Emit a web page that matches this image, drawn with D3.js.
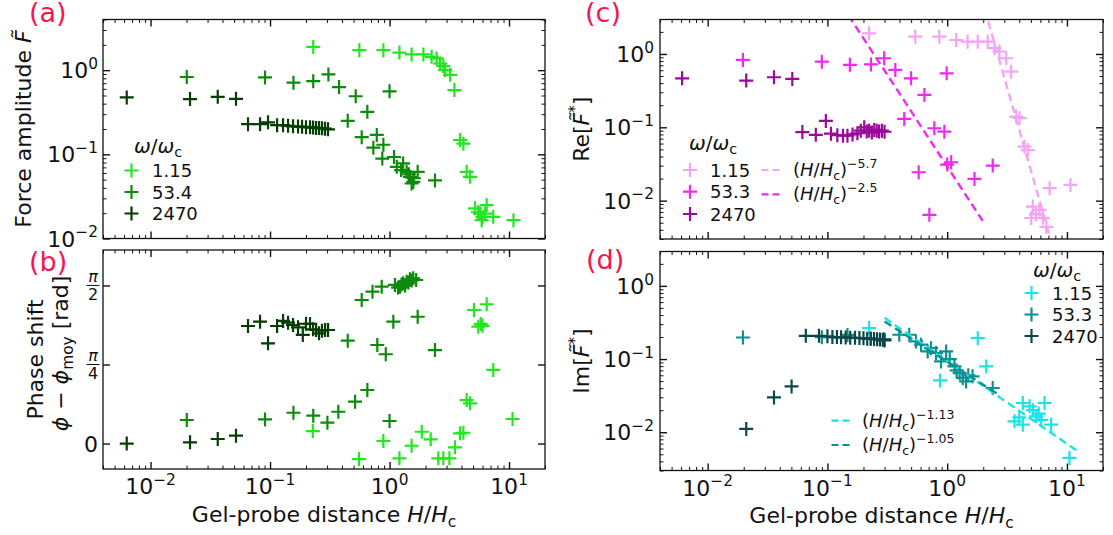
<!DOCTYPE html>
<html><head><meta charset="utf-8">
<script src="https://cdn.jsdelivr.net/npm/d3@7"></script>
<style>body{margin:0;background:#fff}svg{display:block}text{font-family:"DejaVu Sans",sans-serif;fill:#111}</style>
</head><body><svg id="chart" width="1113" height="535"></svg>
<script>
// ---------------- data (H/Hc, value) ----------------
const ampLight = [[0.230,1.89],[0.559,1.73],[0.888,1.73],[1.21,1.62],[1.53,1.54],[1.92,1.54],[2.25,1.44],[2.48,1.38],[2.65,1.20],[2.82,1.12],[2.92,1.0],[3.21,0.88],[3.49,0.58],[3.89,0.148],[4.15,0.134],[4.42,0.062],[4.71,0.054],[5.19,0.0228],[5.5,0.0205],[5.71,0.0198],[5.90,0.0165],[6.0,0.018],[6.29,0.0198],[6.50,0.0249],[7.38,0.0181],[10.9,0.0165]];
const ampMid = [[0.0201,0.83],[0.0908,0.82],[0.157,0.71],[0.230,0.74],[0.308,0.89],[0.378,0.63],[0.447,0.25],[0.521,0.49],[0.585,0.16],[0.652,0.32],[0.732,0.12],[0.782,0.17],[0.870,0.089],[0.888,0.13],[1.0,0.56],[1.09,0.093],[1.15,0.071],[1.25,0.065],[1.30,0.078],[1.39,0.062],[1.45,0.058],[1.48,0.054],[1.53,0.045],[1.58,0.047],[1.6,0.052],[1.72,0.062],[2.40,0.049]];
const ampDark = [[0.00632,0.474],[0.0214,0.453],[0.0365,0.482],[0.0519,0.456],[0.0654,0.228],[0.0825,0.228],[0.0962,0.24],[0.1145,0.222],[0.1285,0.222],[0.1415,0.218],[0.1557,0.215],[0.1715,0.214],[0.1853,0.212],[0.200,0.210],[0.2162,0.210],[0.2291,0.208],[0.2427,0.206],[0.2571,0.205],[0.2723,0.204],[0.2885,0.202],[0.3057,0.198]];

const phaseLight = [[0.228,0.124],[0.556,-0.154],[0.888,0.025],[1.21,-0.147],[1.53,-0.022],[1.86,0.117],[2.21,0.042],[2.56,-0.147],[2.82,-0.147],[3.17,-0.147],[3.53,-0.038],[3.89,0.101],[4.15,0.107],[4.42,0.432],[4.71,0.40],[5.09,1.327],[5.53,1.161],[5.79,1.188],[6.0,1.17],[6.50,1.384],[7.38,0.731],[10.7,0.244]];
const phaseMid = [[0.0201,0.234],[0.0908,0.240],[0.157,0.306],[0.230,0.277],[0.302,0.207],[0.373,0.316],[0.447,1.022],[0.515,0.416],[0.585,1.426],[0.652,0.532],[0.72,1.509],[0.79,0.979],[0.86,1.559],[0.93,0.887],[1.0,0.224],[1.076,1.211],[1.11,1.576],[1.18,1.55],[1.22,1.559],[1.26,1.58],[1.30,1.592],[1.35,1.57],[1.39,1.608],[1.44,1.60],[1.48,1.632],[1.53,1.62],[1.58,1.642],[1.67,1.625],[1.72,1.26],[2.40,0.929]];
const phaseDark = [[0.00632,0.0],[0.0214,0.012],[0.0365,0.045],[0.0519,0.078],[0.0654,1.168],[0.0825,1.211],[0.0962,0.996],[0.1145,1.168],[0.1285,1.218],[0.1415,1.201],[0.1557,1.178],[0.1715,1.155],[0.188,1.079],[0.200,1.19],[0.216,1.188],[0.229,1.135],[0.243,1.128],[0.257,1.095],[0.272,1.121],[0.289,1.128],[0.306,1.128]];

const reLight = [[0.223,1.91],[0.542,1.72],[0.86,1.72],[1.19,1.55],[1.48,1.47],[1.80,1.47],[2.18,1.47],[2.48,1.20],[2.73,1.08],[3.11,0.874],[3.42,0.574],[3.77,0.14],[4.02,0.133],[4.42,0.0545],[4.71,0.049],[5.03,0.0058],[5.19,0.0083],[5.5,0.0065],[5.9,0.0075],[6.29,0.0058],[6.73,0.0044],[7.17,0.0148],[10.7,0.0164]];
const reMid = [[0.0197,0.83],[0.0898,0.785],[0.154,0.71],[0.231,0.72],[0.298,0.874],[0.369,0.605],[0.438,0.130],[0.499,0.466],[0.578,0.0244],[0.645,0.276],[0.71,0.0064],[0.781,0.097],[0.947,0.0873],[0.99,0.545],[1.0,0.031],[1.08,0.0334],[1.69,0.0198],[2.40,0.0301]];
const reDark = [[0.00612,0.466],[0.021,0.433],[0.0358,0.481],[0.0509,0.456],[0.0618,0.086],[0.080,0.079],[0.097,0.122],[0.107,0.082],[0.121,0.078],[0.135,0.077],[0.147,0.077],[0.162,0.080],[0.178,0.083],[0.19,0.09],[0.203,0.10],[0.213,0.088],[0.223,0.09],[0.235,0.085],[0.246,0.092],[0.258,0.09],[0.27,0.088],[0.285,0.09],[0.30,0.087]];

const imLight = [[0.223,0.265],[0.872,0.051],[1.80,0.193],[2.12,0.0793],[3.65,0.0141],[4.0,0.016],[4.28,0.0251],[4.28,0.0127],[4.88,0.0226],[5.2,0.020],[5.53,0.0165],[5.8,0.018],[6.1,0.0148],[6.5,0.0251],[7.38,0.0127],[10.5,0.00446]];
const imMid = [[0.0197,0.197],[0.0898,0.199],[0.147,0.214],[0.23,0.19],[0.298,0.187],[0.398,0.215],[0.482,0.215],[0.549,0.174],[0.605,0.157],[0.687,0.127],[0.733,0.141],[0.807,0.121],[0.889,0.0927],[0.98,0.127],[1.05,0.10],[1.15,0.0793],[1.2,0.070],[1.27,0.0644],[1.35,0.0552],[1.44,0.0495],[1.5,0.060],[1.63,0.058],[2.40,0.0402]];
const imDark = [[0.021,0.0111],[0.0358,0.0299],[0.0502,0.0423],[0.066,0.208],[0.085,0.208],[0.10,0.205],[0.11,0.20],[0.12,0.20],[0.13,0.198],[0.142,0.197],[0.155,0.196],[0.17,0.195],[0.185,0.194],[0.20,0.193],[0.215,0.19],[0.23,0.19],[0.245,0.188],[0.26,0.186],[0.275,0.185],[0.29,0.183],[0.30,0.18]];

// power-law fits: exponent, prefactor, H range
const fitRe = [{exp:-5.7, A:249, from:2.2, to:7.2, lab:"−5.7"},{exp:-2.5, A:0.0292, from:0.15, to:1.98, lab:"−2.5"}];
const fitIm = [{exp:-1.13, A:0.0938, from:0.3, to:12.4, lab:"−1.13"},{exp:-1.05, A:0.092, from:0.3, to:2.6, lab:"−1.05"}];

const legA = ["1.15","53.4","2470"];
const legCD = ["1.15","53.3","2470"];
const xTickExps = [-2,-1,0,1];
const logYExpsA = [-2,-1,0];
const logYExpsCD = [-2,-1,0];
const phaseTicks = [0, Math.PI/4, Math.PI/2];

// ---------------- layout ----------------
const svg = d3.select("#chart");
const boxes = {
  a:{l:103,r:545,t:19.5,b:238.5},
  b:{l:103,r:545,t:250,b:469},
  c:{l:660,r:1103,t:19.5,b:239},
  d:{l:660,r:1103,t:251.5,b:470.5}
};
const xDomain = [0.004, 20];
const colA = ["#22e622","#0b8a0b","#053d05"];
const colC = ["#f5a3f5","#f028f0","#990a99"];
const colD = ["#1ee3e3","#0c9191","#0c4747"];
const FS = 22;

function logMaj(dom){const o=[];for(let e=-4;e<=2;e++){const v=Math.pow(10,e);if(v>=dom[0]&&v<=dom[1])o.push(v);}return o;}
function logMin(dom){const o=[];for(let e=-4;e<=2;e++)for(let m=2;m<=9;m++){const v=m*Math.pow(10,e);if(v>=dom[0]&&v<=dom[1])o.push(v);}return o;}

function drawTicks(g,bx,x,y,xMaj,xMin,yMaj,yMin){
  const specs=[[d3.axisBottom,x,`translate(0,${bx.b})`,true],[d3.axisTop,x,`translate(0,${bx.t})`,true],
               [d3.axisLeft,y,`translate(${bx.l},0)`,false],[d3.axisRight,y,`translate(${bx.r},0)`,false]];
  specs.forEach(([fn,sc,tr,isX])=>{
    const maj=isX?xMaj:yMaj, mn=isX?xMin:yMin;
    [[mn,3.5,1.0],[maj,7,1.4]].forEach(([vals,len,w])=>{
      if(!vals.length) return;
      const ax=g.append("g").attr("transform",tr).call(fn(sc).tickValues(vals).tickSize(-len).tickFormat(""));
      ax.select(".domain").remove();
      ax.selectAll("text").remove();
      ax.selectAll("line").attr("stroke","#111").attr("stroke-width",w);
    });
  });
  g.append("rect").attr("x",bx.l).attr("y",bx.t).attr("width",bx.r-bx.l).attr("height",bx.b-bx.t)
    .attr("fill","none").attr("stroke","#111").attr("stroke-width",1.3);
}

function rich(g,parts,attrs){
  const t=g.append("text");
  Object.entries(attrs).forEach(([k,v])=>t.attr(k,v));
  parts.forEach(p=>{const s=t.append("tspan").text(p.t);
    if(p.i) s.attr("font-style","italic");
    if(p.dy!==undefined) s.attr("dy",p.dy);
    if(p.fs) s.attr("font-size",p.fs);});
  return t;
}
function powParts(e,fs){return [{t:"10"},{t:(e<0?"−"+(-e):String(e)),dy:-fs*0.42,fs:fs*0.7}];}

function plus(g,data,x,y,color,clip){
  g.append("g").attr("clip-path",clip).selectAll("path").data(data).join("path")
   .attr("d","M-7,0H7M0,-7V7").attr("transform",d=>`translate(${x(d[0])},${y(d[1])})`)
   .attr("stroke",color).attr("stroke-width",2.2).attr("fill","none");
}
function clipFor(id,bx){
  svg.append("clipPath").attr("id",id).append("rect").attr("x",bx.l).attr("y",bx.t).attr("width",bx.r-bx.l).attr("height",bx.b-bx.t);
  return `url(#${id})`;
}
function panelLetter(s,x,yb){svg.append("text").attr("x",x).attr("y",yb).attr("font-size",27).style("fill","#f5164f").text(s);}

function xTickLabels(g,bx,x,yb){
  xTickExps.forEach(e=>rich(g,powParts(e,FS),{x:x(Math.pow(10,e)),y:yb,"text-anchor":"middle","font-size":FS}));
}
function yLogTickLabels(g,bx,y,exps,xr){
  exps.forEach(e=>rich(g,powParts(e,FS),{x:xr,y:y(Math.pow(10,e))+8,"text-anchor":"end","font-size":FS}));
}
function xLabel(g,cx,yb){
  rich(g,[{t:"Gel-probe distance "},{t:"H",i:1},{t:"/"},{t:"H",i:1},{t:"c",dy:5,fs:FS*0.7}],{x:cx,y:yb,"text-anchor":"middle","font-size":FS});
}
function omegaTitle(g,cx,yb,fs){
  rich(g,[{t:"ω",i:1},{t:"/"},{t:"ω",i:1},{t:"c",dy:4,fs:fs*0.72}],{x:cx,y:yb,"text-anchor":"middle","font-size":fs});
}
function legendSeries(g,x0,ys,cols,labs,tx){
  ys.forEach((yy,i)=>{
    g.append("path").attr("d","M-7,0H7M0,-7V7").attr("transform",`translate(${x0},${yy})`)
     .attr("stroke",cols[i]).attr("stroke-width",2.2).attr("fill","none");
    g.append("text").attr("x",tx).attr("y",yy+6.5).attr("font-size",18).text(labs[i]);
  });
}
function legendFits(g,x0,x1,ys,cols,fits,tx){
  ys.forEach((yy,i)=>{
    g.append("line").attr("x1",x0).attr("x2",x1).attr("y1",yy).attr("y2",yy)
     .attr("stroke",cols[i]).attr("stroke-width",2.2).attr("stroke-dasharray","7,4");
    rich(g,[{t:"("},{t:"H",i:1},{t:"/"},{t:"H",i:1},{t:"c",dy:4,fs:12.5},{t:")",dy:-4},{t:fits[i].lab,dy:-8,fs:12.5}],
      {x:tx,y:yy+6,"font-size":18});
  });
}
function fitLines(g,x,y,fits,cols,clip){
  fits.forEach((f,i)=>{
    const pts=[[f.from,f.A*Math.pow(f.from,f.exp)],[f.to,f.A*Math.pow(f.to,f.exp)]];
    g.append("path").attr("clip-path",clip).datum(pts)
     .attr("d",d3.line().x(d=>x(d[0])).y(d=>y(d[1])))
     .attr("fill","none").attr("stroke",cols[i]).attr("stroke-width",2.4).attr("stroke-dasharray","8,4.5");
  });
}

// ---------------- panel (a) ----------------
{
  const bx=boxes.a, g=svg.append("g");
  const x=d3.scaleLog().domain(xDomain).range([bx.l,bx.r]);
  const yd=[0.01,4];
  const y=d3.scaleLog().domain(yd).range([bx.b,bx.t]);
  const clip=clipFor("ca",bx);
  plus(g,ampLight,x,y,colA[0],clip);
  plus(g,ampMid,x,y,colA[1],clip);
  plus(g,ampDark,x,y,colA[2],clip);
  drawTicks(g,bx,x,y,logMaj(xDomain),logMin(xDomain),logMaj(yd),logMin(yd));
  yLogTickLabels(g,bx,y,logYExpsA,98);
  rich(g,[{t:"Force amplitude "},{t:"F\u0303",i:1}],{transform:`translate(31,${(bx.t+bx.b)/2}) rotate(-90)`,"text-anchor":"middle","font-size":FS});
  omegaTitle(g,158,153,20);
  legendSeries(g,131.5,[170.5,192,213.5],colA,legA,152);
  panelLetter("(a)",29,22);
}
// ---------------- panel (b) ----------------
{
  const bx=boxes.b, g=svg.append("g");
  const x=d3.scaleLog().domain(xDomain).range([bx.l,bx.r]);
  const y=d3.scaleLinear().domain([-0.253,1.923]).range([bx.b,bx.t]);
  const clip=clipFor("cb",bx);
  plus(g,phaseLight,x,y,colA[0],clip);
  plus(g,phaseMid,x,y,colA[1],clip);
  plus(g,phaseDark,x,y,colA[2],clip);
  drawTicks(g,bx,x,y,logMaj(xDomain),logMin(xDomain),phaseTicks,[]);
  g.append("text").attr("x",98).attr("y",y(0)+8).attr("text-anchor","end").attr("font-size",FS).text("0");
  [[Math.PI/4,"4"],[Math.PI/2,"2"]].forEach(([v,den])=>{
    const yy=y(v), cx=93;
    g.append("text").attr("x",cx).attr("y",yy-3).attr("text-anchor","middle").attr("font-size",16).attr("font-style","italic").text("π");
    g.append("line").attr("x1",cx-6.5).attr("x2",cx+6.5).attr("y1",yy).attr("y2",yy).attr("stroke","#111").attr("stroke-width",1);
    g.append("text").attr("x",cx).attr("y",yy+15).attr("text-anchor","middle").attr("font-size",16).text(den);
  });
  const cy=(bx.t+bx.b)/2;
  rich(g,[{t:"Phase shift"}],{transform:`translate(43,${cy}) rotate(-90)`,"text-anchor":"middle","font-size":FS});
  rich(g,[{t:"\u03D5",i:1},{t:" − "},{t:"\u03D5",i:1},{t:"moy",dy:5,fs:FS*0.7},{t:" [rad]",dy:-5}],
    {transform:`translate(68,${cy-6}) rotate(-90)`,"text-anchor":"middle","font-size":FS});
  xTickLabels(g,bx,x,494);
  xLabel(g,(bx.l+bx.r)/2,521.5);
  panelLetter("(b)",29,271);
}
// ---------------- panel (c) ----------------
{
  const bx=boxes.c, g=svg.append("g");
  const x=d3.scaleLog().domain(xDomain).range([bx.l,bx.r]);
  const yd=[0.003,2.95];
  const y=d3.scaleLog().domain(yd).range([bx.b,bx.t]);
  const clip=clipFor("cc",bx);
  plus(g,reLight,x,y,colC[0],clip);
  plus(g,reMid,x,y,colC[1],clip);
  plus(g,reDark,x,y,colC[2],clip);
  fitLines(g,x,y,fitRe,[colC[0],colC[1]],clip);
  drawTicks(g,bx,x,y,logMaj(xDomain),logMin(xDomain),logMaj(yd),logMin(yd));
  yLogTickLabels(g,bx,y,logYExpsCD,654);
  rich(g,[{t:"Re["},{t:"F\u0303",i:1},{t:"*",dy:-9,fs:15},{t:"]",dy:9}],{transform:`translate(589,${(bx.t+bx.b)/2}) rotate(-90)`,"text-anchor":"middle","font-size":FS});
  omegaTitle(g,713,150,20);
  legendSeries(g,690,[170,191.7,214],colC,legCD,710);
  legendFits(g,761.5,781,[170,194.3],[colC[0],colC[1]],fitRe,793);
  panelLetter("(c)",585,22);
}
// ---------------- panel (d) ----------------
{
  const bx=boxes.d, g=svg.append("g");
  const x=d3.scaleLog().domain(xDomain).range([bx.l,bx.r]);
  const yd=[0.003,2.95];
  const y=d3.scaleLog().domain(yd).range([bx.b,bx.t]);
  const clip=clipFor("cd",bx);
  plus(g,imLight,x,y,colD[0],clip);
  plus(g,imMid,x,y,colD[1],clip);
  plus(g,imDark,x,y,colD[2],clip);
  fitLines(g,x,y,fitIm,[colD[0],colD[1]],clip);
  drawTicks(g,bx,x,y,logMaj(xDomain),logMin(xDomain),logMaj(yd),logMin(yd));
  yLogTickLabels(g,bx,y,logYExpsCD,654);
  rich(g,[{t:"Im["},{t:"F\u0303",i:1},{t:"*",dy:-9,fs:15},{t:"]",dy:9}],{transform:`translate(589,${(bx.t+bx.b)/2}) rotate(-90)`,"text-anchor":"middle","font-size":FS});
  xTickLabels(g,bx,x,495.5);
  xLabel(g,(bx.l+bx.r)/2,523);
  omegaTitle(g,1057,277,20);
  legendSeries(g,1031.5,[293,314.5,336],colD,legCD,1052);
  legendFits(g,831.5,851.5,[420.7,445],[colD[0],colD[1]],fitIm,862);
  panelLetter("(d)",586,269);
}
</script></body></html>
